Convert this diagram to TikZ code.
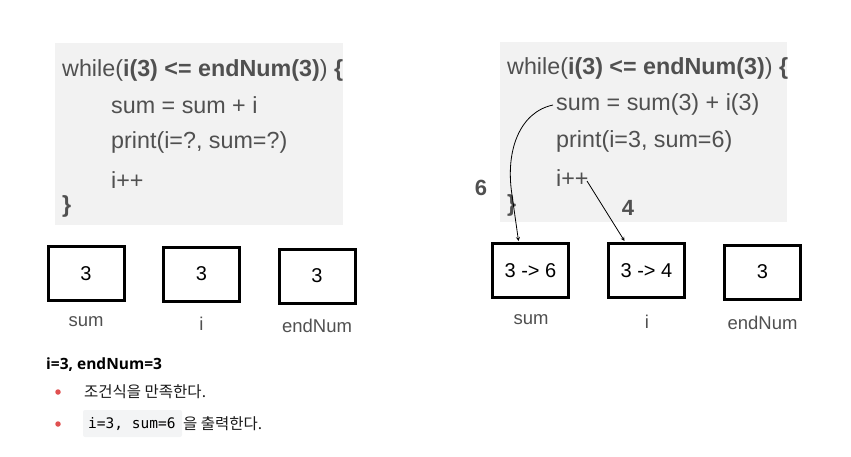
\documentclass[tikz,border=0pt]{standalone}
\usepackage{fontspec}
\setmainfont{Liberation Sans}
\newfontfamily\kr{Noto Sans CJK KR}
\newfontfamily\mono{DejaVu Sans Mono}
\newfontfamily\hdfont{Open Sans}
\definecolor{codebg}{HTML}{F2F2F2}
\definecolor{codefg}{HTML}{505050}
\definecolor{dotred}{HTML}{E05050}
\definecolor{inlinebg}{HTML}{F3F4F5}
\begin{document}
\begin{tikzpicture}[x=1pt,y=-1pt,
  codeline/.style={anchor=west,text=codefg,font=\fontsize{23.3}{26}\selectfont,inner sep=0},
  valbox/.style={draw,line width=3pt,minimum width=76pt,minimum height=54pt,font=\fontsize{20}{22}\selectfont},
  varlabel/.style={text=codefg,font=\fontsize{18.5}{21}\selectfont},
  numlabel/.style={text=codefg,font=\bfseries\fontsize{22}{24}\selectfont},
  bullet/.style={circle,fill=dotred,inner sep=0,minimum size=5.5pt},
  note/.style={anchor=west,inner sep=0,text=black!90,font=\kr\fontsize{15.5}{18}\selectfont}]
\useasboundingbox (0,0) rectangle (851,457);
% left code
\fill[codebg] (55,43) rectangle (343,225);
\node[codeline] (lw) at (62,70) {while(\textbf{i(3) <= endNum(3)}) \textbf{\{}};
\node[codeline] (l1) at (111,105) {sum = sum + i};
\node[codeline] (l2) at (111,142) {print(i=?, sum=?)};
\node[codeline] (l3) at (111,180) {i++};
\node[codeline] (l4) at (62,206) {\textbf{\}}};
% left boxes
\node[valbox] (ls) at (86,273.5) {3};
\node[valbox] (li) at (201.5,274) {3};
\node[valbox] (le) at (317,276) {3};
\node[varlabel] (lsl) at (86,322) {sum};
\node[varlabel] (lil) at (201.5,324) {i};
\node[varlabel] (lel) at (317,326) {endNum};
% right code
\fill[codebg] (500,42) rectangle (787,222);
\node[codeline] (rw) at (507,68) {while(\textbf{i(3) <= endNum(3)}) \textbf{\{}};
\node[codeline] (r1) at (556,104) {sum = sum(3) + i(3)};
\node[codeline] (r2) at (556,141) {print(i=3, sum=6)};
\node[codeline] (r3) at (556,178) {i++};
\node[codeline] (r4) at (507,205) {\textbf{\}}};
% right boxes
\node[valbox] (rs) at (530.5,270.5) {3 -> 6};
\node[valbox] (ri) at (646.5,270.5) {3 -> 4};
\node[valbox] (re) at (762.5,272) {3};
\node[varlabel] (rsl) at (531,320) {sum};
\node[varlabel] (ril) at (647,322) {i};
\node[varlabel] (rel) at (762.5,323) {endNum};
\node[numlabel] (six) at (481,188) {6};
\node[numlabel] (four) at (628,208) {4};
% arrows
\coordinate (a1s) at (553,105);
\coordinate (a2s) at (587,181);
\draw[->,thick,>=stealth] (a1s) .. controls (520,112) and (505,150) .. (512,195) -- (518.5,241) ;
\draw[->,thick,>=stealth] (a2s) -- (624.5,241);
% notes
\node[anchor=west,inner sep=0,font=\hdfont\bfseries\fontsize{15.5}{18}\selectfont] (hd) at (46,365) {i=3, endNum=3};
\node[bullet] (b1) at (58,392) {};
\node[note] (n1) at (84,392) {조건식을 만족한다.};
\node[bullet] (b2) at (58,424) {};
\fill[inlinebg,rounded corners=2pt] (83,410) rectangle (182,437);
\node[anchor=west,inner sep=0,font=\mono\fontsize{14.5}{17}\selectfont] (c2) at (88,424) {i=3, sum=6};
\node[note,anchor=west] (n2) at (183,424) {을 출력한다.};
\end{tikzpicture}
\end{document}
